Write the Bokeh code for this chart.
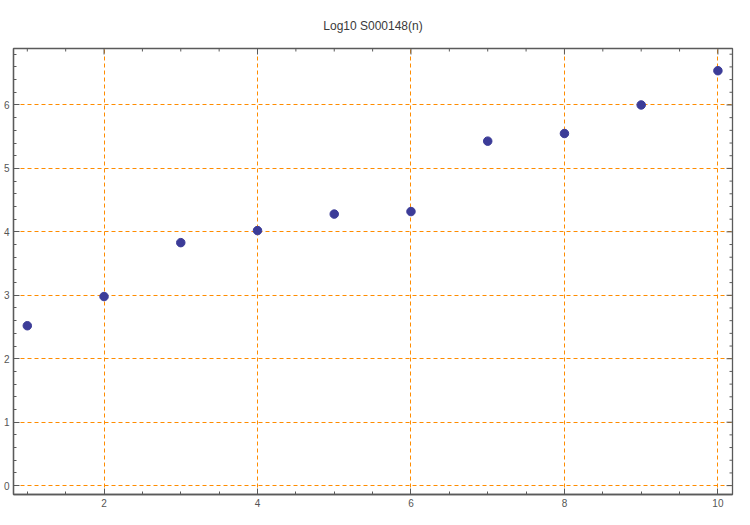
import math
from bokeh.plotting import figure
from bokeh.models import LinearAxis, FixedTicker, Range1d
from bokeh.embed import file_html
from bokeh.resources import INLINE

# Data
n_values = [1, 2, 3, 4, 5, 6, 7, 8, 9, 10]
log10_values = [2.52, 2.98, 3.83, 4.02, 4.28, 4.32, 5.43, 5.55, 6.00, 6.54]
x_ticks = [2, 4, 6, 8, 10]
y_ticks = [0, 1, 2, 3, 4, 5, 6]
x_minor = [1.0, 1.5, 2.5, 3.0, 3.5, 4.5, 5.0, 5.5, 6.5, 7.0, 7.5, 8.5, 9.0, 9.5]
y_minor = [round(i * 0.2, 1) for i in range(0, 35) if i % 5 != 0]
title_text = "Log10 S000148(n)"

AX = "#5a5a5a"
GRID = "#ff8c00"
X0, X1 = 0.82, 10.19
Y0, Y1 = -0.14, 6.89

p = figure(width=734, height=509, output_backend="svg", toolbar_location=None,
           x_range=Range1d(X0, X1), y_range=Range1d(Y0, Y1),
           x_axis_location=None, y_axis_location=None,
           min_border_left=2, min_border_right=2, min_border_top=42, min_border_bottom=2)

p.title.text = title_text
p.title.align = "center"
p.title.text_font = "Liberation Sans"
p.title.text_font_size = "12px"
p.title.text_font_style = "normal"
p.title.text_color = "#3a3a3a"
p.title.offset = 0
p.title.standoff = 32

def make_axis(ticks, minor):
    ax = LinearAxis(ticker=FixedTicker(ticks=ticks, minor_ticks=minor))
    ax.axis_line_color = AX
    ax.axis_line_width = 1.3
    ax.major_tick_line_color = AX
    ax.minor_tick_line_color = AX
    ax.major_tick_in = 6
    ax.major_tick_out = 0
    ax.minor_tick_in = 3
    ax.minor_tick_out = 0
    ax.major_label_text_font = "Liberation Sans"
    ax.major_label_text_color = "#555555"
    ax.major_label_text_font_size = "10px"
    ax.major_label_standoff = 4
    return ax

p.add_layout(make_axis(x_ticks, x_minor), "below")
p.add_layout(make_axis(y_ticks, y_minor), "left")

p.xgrid.ticker = FixedTicker(ticks=x_ticks)
p.ygrid.ticker = FixedTicker(ticks=y_ticks)
for g in (p.xgrid, p.ygrid):
    g.grid_line_color = GRID
    g.grid_line_dash = "4 3"
    g.grid_line_width = 1

p.outline_line_color = AX
p.outline_line_width = 1.3

# Mirror ticks on top and right frame edges (screen-length rays)
p.ray(x=x_ticks, y=[Y1] * len(x_ticks), length=6, length_units="screen",
      angle=-math.pi / 2, line_color=AX, line_width=1)
p.ray(x=x_minor, y=[Y1] * len(x_minor), length=3, length_units="screen",
      angle=-math.pi / 2, line_color=AX, line_width=1)
p.ray(x=[X1] * len(y_ticks), y=y_ticks, length=6, length_units="screen",
      angle=math.pi, line_color=AX, line_width=1)
p.ray(x=[X1] * len(y_minor), y=y_minor, length=3, length_units="screen",
      angle=math.pi, line_color=AX, line_width=1)

p.scatter(n_values, log10_values, size=8.5, color="#3c3c98", line_color="#3c3c98")

open("out.html", "w").write(file_html(p, INLINE))
